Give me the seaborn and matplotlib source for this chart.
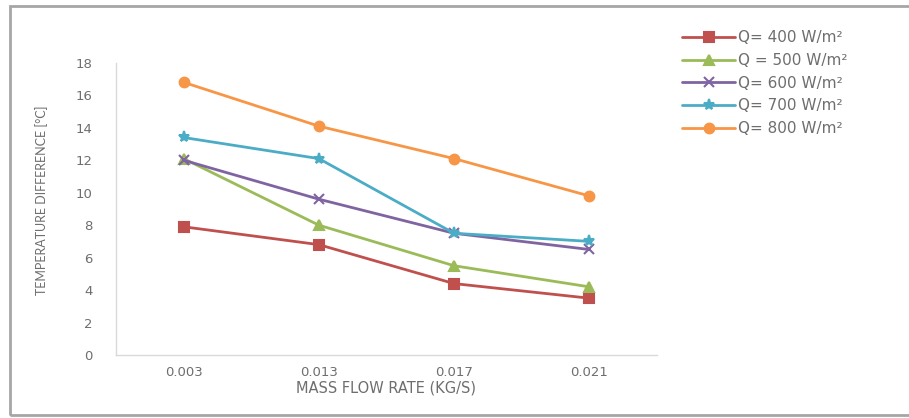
import numpy as np
import pandas as pd
import matplotlib
matplotlib.use("Agg")
import matplotlib.pyplot as plt
from matplotlib.patches import Rectangle
import seaborn as sns

# Mass flow rate categories (kg/s)
flow_labels = ["0.003", "0.013", "0.017", "0.021"]

# Temperature difference [°C] for each heat flux
q400 = [7.9, 6.8, 4.4, 3.5]
q500 = [12.1, 8.0, 5.5, 4.2]
q600 = [12.0, 9.6, 7.5, 6.5]
q700 = [13.4, 12.1, 7.5, 7.0]
q800 = [16.8, 14.1, 12.1, 9.8]

series_names = ["Q= 400 W/m²", "Q = 500 W/m²", "Q= 600 W/m²", "Q= 700 W/m²", "Q= 800 W/m²"]
series_vals = [q400, q500, q600, q700, q800]
y_ticks = [0, 2, 4, 6, 8, 10, 12, 14, 16, 18]

colors = ["#C0504D", "#9BBB59", "#8064A2", "#4BACC6", "#F79646"]
markers = ["s", "^", "x", "*", "o"]
msizes = [7, 7, 7, 8, 7]

rows = []
for name, vals in zip(series_names, series_vals):
    for lab, v in zip(flow_labels, vals):
        rows.append({"flow": lab, "dT": v, "series": name})
df = pd.DataFrame(rows)

sns.set_theme(style="white")
plt.rcParams["font.family"] = ["DejaVu Sans"]
text_col = "#6E6E6E"

fig = plt.figure(figsize=(9.09, 4.18), dpi=100)
ax = fig.add_axes([0.1276, 0.1507, 0.595, 0.699])

sns.lineplot(data=df, x="flow", y="dT", hue="series", hue_order=series_names,
             palette=colors, marker="o", linewidth=2, sort=False, ax=ax, legend=False)

# set per-series marker shapes (Excel style)
for line, c, m, ms in zip(ax.get_lines(), colors, markers, msizes):
    line.set_marker(m)
    line.set_markeredgecolor(c)
    line.set_markerfacecolor(c)
    line.set_markersize(ms)
    line.set_markeredgewidth(1.5)

ax.set_xlim(-0.5, len(flow_labels) - 0.5)
ax.set_ylim(0, 18)
ax.set_yticks(y_ticks)
ax.set_yticklabels([str(t) for t in y_ticks])
ax.tick_params(axis="x", length=0, colors=text_col, labelsize=9.5, pad=8)
ax.tick_params(axis="y", length=0, colors=text_col, labelsize=9.5, pad=17)

ax.set_xlabel("MASS FLOW RATE (KG/S)", color=text_col, fontsize=10.5, labelpad=1)
ax.set_ylabel("TEMPERATURE DIFFERENCE [°C]", color=text_col, fontsize=9,
              fontfamily="Lato", labelpad=20)
ax.yaxis.set_label_coords(-0.125, 0.53)

for side in ["top", "right"]:
    ax.spines[side].set_visible(False)
for side in ["left", "bottom"]:
    ax.spines[side].set_color("#D9D9D9")
    ax.spines[side].set_linewidth(1)

handles = [plt.Line2D([], [], color=c, marker=m, markersize=ms, lw=2,
                      markeredgecolor=c, markeredgewidth=1.5)
           for c, m, ms in zip(colors, markers, msizes)]
fig.legend(handles, series_names, loc="upper left", bbox_to_anchor=(0.735, 0.96),
           frameon=False, fontsize=11, handlelength=3.5, labelspacing=0.5,
           handletextpad=0.2, labelcolor=text_col)

# outer chart border
fig.patches.append(Rectangle((0.011, 0.008), 1.2, 0.977, transform=fig.transFigure,
                             fill=False, edgecolor="#A6A6A6", linewidth=2))

fig.savefig("out.png", dpi=100)
